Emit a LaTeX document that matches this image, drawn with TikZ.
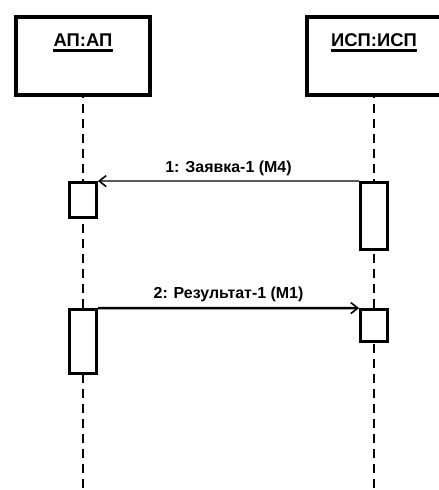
\documentclass[tikz,border=0pt]{standalone}
\usepackage{fontspec}
\setmainfont{Liberation Sans}
\usetikzlibrary{arrows.meta, positioning, calc}

\begin{document}
\begin{tikzpicture}[
    x=1bp, y=-1bp,
    actor/.style={draw, line width=4.5bp, minimum width=134bp, minimum height=78bp, inner sep=0pt},
    actorname/.style={font=\bfseries\fontsize{18.5}{22}\selectfont, inner sep=0pt},
    underl/.style={line width=2.6bp},
    act/.style={draw, fill=white, line width=2.8bp, minimum width=27bp, inner sep=0pt},
    lifeline/.style={line width=2.2bp, dash pattern=on 9bp off 6bp, dash phase=8bp},
    msg/.style={-{Straight Barb[length=7bp, width=11bp, line width=1.6bp]}},
    msglabel/.style={font=\bfseries\fontsize{16}{19}\selectfont, above=5bp, inner sep=0pt}
]
\useasboundingbox[fill=white] (0,0) rectangle (439,490);

% actors
\node[actor] (ap) at (83,56) {};
\node[actor] (isp) at (374,56) {};
\node[actorname] (apname) at ([yshift=-25bp]ap.north) {АП:АП};
\node[actorname] (ispname) at ([yshift=-25bp]isp.north) {ИСП:ИСП};
\draw[underl] ([yshift=-4bp]apname.south west) -- ([yshift=-4bp]apname.south east);
\draw[underl] ([yshift=-4bp]ispname.south west) -- ([yshift=-4bp]ispname.south east);

% lifelines
\coordinate (apend) at (83,490);
\coordinate (ispend) at (374,490);
\draw[lifeline] (ap.south) -- (apend);
\draw[lifeline] (isp.south) -- (ispend);

% activations
\node[act, minimum height=35bp] (act1l) at (83,200) {};
\node[act, minimum height=67bp] (act1r) at (374,216) {};
\node[act, minimum height=64bp] (act2l) at (83,341.5) {};
\node[act, minimum height=32bp] (act2r) at (374,325.5) {};

% messages
\draw[msg, line width=1.3bp] (act1r.north west) -- (act1l.north east)
    node[msglabel, midway] {1: Заявка-1 (М4)};
\draw[msg, line width=2.4bp] (act2l.north east) -- (act2r.north west)
    node[msglabel, midway] {2: Результат-1 (М1)};
\end{tikzpicture}
\end{document}
